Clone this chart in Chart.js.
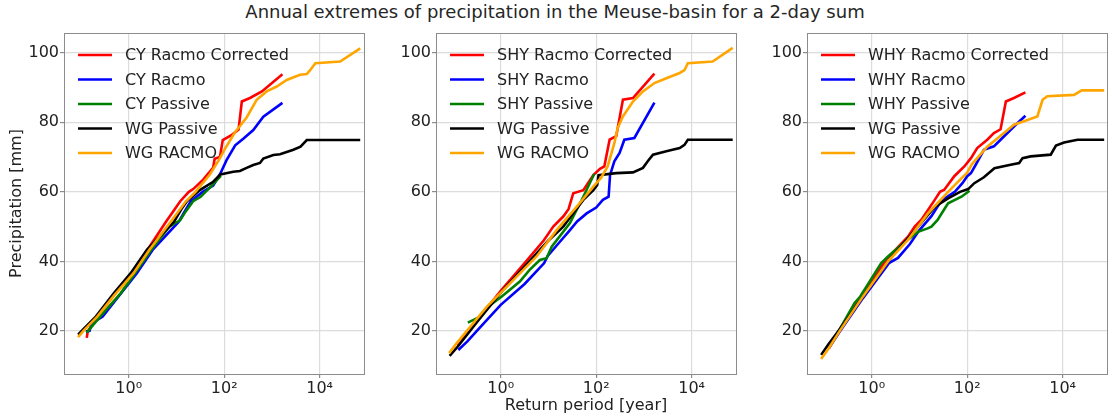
<!DOCTYPE html>
<html>
<head>
<meta charset="utf-8">
<script src="https://cdn.jsdelivr.net/npm/chart.js@4.4.1/dist/chart.umd.min.js"></script>
<style>
  body { margin: 0; width: 1110px; height: 420px; overflow: hidden; background: #fff; position: relative; font-family: "DejaVu Sans", sans-serif; }
  #title { position: absolute; top: 2px; left: 0; width: 1110px; line-height: 20px; text-align: center; font-size: 18px; color: #262626; }
  canvas { position: absolute; top: 0; }
</style>
</head>
<body>
<div id="title">Annual extremes of precipitation in the Meuse-basin for a 2-day sum</div>
<canvas id="p1" width="372" height="420" style="left:0px"></canvas>
<canvas id="p2" width="372" height="420" style="left:372px"></canvas>
<canvas id="p3" width="372" height="420" style="left:743px"></canvas>
<script>
// return period [year] and 2-day precipitation [mm] per series

// CY panel
const cyCorrT = [0.132, 0.138, 0.219, 0.5, 1.15, 2.45, 6.03, 12, 18.2, 22.4, 36.3, 58.9, 63.1, 81.3, 93.3, 145, 200, 234, 347, 617, 1660];
const cyCorrP = [18.0, 19.8, 24.1, 30.5, 36.6, 43.3, 51.4, 57.3, 60.0, 60.8, 63.5, 67.0, 69.5, 70.0, 74.9, 76.4, 77.9, 86.0, 87.0, 88.9, 93.8];
const cyRacmoT = [0.126, 0.151, 0.166, 0.282, 1.48, 3.16, 11.2, 15.1, 20, 35.5, 58.9, 83.2, 112, 170, 251, 407, 661, 1660];
const cyRacmoP = [19.8, 20.0, 22.2, 24.1, 36.6, 43.3, 51.4, 54.5, 57.3, 60.0, 61.8, 65.3, 69.1, 73.4, 75.3, 77.8, 81.6, 85.6];
const cyPassT = [0.132, 0.251, 0.676, 1.35, 2.95, 7.08, 10.5, 12, 15.5, 22.4, 31.6, 52.5, 85.1];
const cyPassP = [19.5, 24.1, 30.8, 36.6, 43.3, 50.0, 51.4, 51.9, 54.3, 57.3, 58.5, 61.5, 64.6];
const wgPass1T = [0.087, 0.112, 0.204, 0.5, 1.1, 2.4, 8.9, 12.6, 16.6, 30.9, 58.9, 83.2, 155, 214, 295, 407, 562, 661, 1072, 1479, 2818, 3981, 5370, 70795];
const wgPass1P = [18.9, 20.5, 24.1, 31.0, 36.6, 43.3, 51.4, 55.0, 57.3, 60.5, 62.9, 65.0, 65.8, 66.0, 66.9, 67.7, 68.3, 69.6, 70.6, 70.8, 72.1, 73.0, 74.9, 74.9];
const wgRacmo1T = [0.087, 0.112, 0.219, 0.5, 1.26, 2.69, 7.59, 15.8, 25.1, 50.1, 79.4, 100, 166, 295, 479, 776, 1259, 2042, 3890, 5370, 6310, 8128, 26915, 70795];
const wgRacmo1P = [18.2, 20.0, 24.1, 30.3, 36.6, 43.3, 51.4, 57.3, 60.0, 65.0, 69.4, 72.0, 77.0, 81.4, 86.5, 88.9, 90.3, 92.2, 93.7, 93.9, 95.0, 97.0, 97.5, 101.3];

// SHY panel
const shyCorrT = [0.126, 0.316, 1, 3.16, 7.94, 12.6, 20.4, 26.3, 33.1, 53.7, 87.1, 120, 148, 191, 263, 363, 589, 1660];
const shyCorrP = [15.8, 23.0, 31.5, 39.5, 46.0, 50.0, 52.9, 55.0, 59.6, 60.5, 64.8, 66.6, 67.3, 75.0, 76.0, 86.5, 87.0, 94.0];
const shyRacmoT = [0.129, 0.2, 0.316, 1, 3.16, 8.13, 9.55, 15.8, 28.2, 39.8, 63.1, 100, 138, 182, 195, 240, 309, 389, 631, 1660];
const shyRacmoP = [14.5, 17.0, 20.0, 27.5, 33.5, 39.5, 41.5, 45.0, 49.0, 51.5, 53.8, 55.5, 57.7, 58.6, 64.8, 68.8, 71.2, 75.0, 75.5, 85.7];
const shyPassT = [0.204, 0.282, 0.372, 0.55, 1.05, 2.51, 3.98, 6.61, 9.12, 11.7, 28.2, 53.7, 91.2];
const shyPassP = [22.4, 23.3, 24.1, 27.0, 29.9, 34.2, 37.5, 40.4, 40.9, 44.2, 51.0, 58.6, 65.2];
const wgPass2T = [0.085, 0.126, 0.316, 1, 3.16, 10, 20.4, 31.6, 53.7, 87.1, 105, 112, 263, 589, 955, 1202, 1549, 2951, 5623, 7079, 8318, 72444];
const wgPass2P = [12.8, 15.5, 22.5, 31.0, 38.5, 46.0, 50.0, 53.5, 57.7, 60.5, 62.0, 64.8, 65.4, 65.6, 66.9, 68.8, 70.7, 71.7, 72.6, 73.5, 75.0, 75.0];
const wgRacmo2T = [0.083, 0.12, 0.513, 1.15, 5.62, 14.8, 38.9, 87.1, 126, 174, 240, 282, 363, 589, 955, 1660, 2951, 5623, 7079, 8318, 27542, 72444];
const wgRacmo2P = [13.6, 16.5, 27.0, 31.8, 41.4, 49.0, 55.7, 61.5, 64.0, 67.3, 74.0, 78.4, 81.7, 86.0, 88.9, 91.3, 92.7, 94.2, 95.0, 97.0, 97.5, 101.4];

// WHY panel
const whyCorrT = [0.126, 0.214, 0.631, 2.0, 5.75, 7.94, 11, 20.9, 26.9, 33.1, 53.7, 87.1, 120, 162, 263, 363, 501, 646, 955, 1660];
const whyCorrP = [15.0, 20.5, 30.5, 40.5, 47.1, 50.0, 52.0, 57.7, 60.0, 60.6, 64.5, 67.3, 69.7, 72.6, 75.0, 76.9, 78.0, 86.0, 87.0, 88.6];
const whyRacmoT = [0.126, 0.214, 0.661, 2.29, 3.55, 6.31, 10, 17.8, 28.8, 55, 79.4, 100, 120, 151, 224, 363, 501, 955, 1660];
const whyRacmoP = [15.0, 19.8, 29.5, 39.5, 41.0, 45.0, 49.0, 53.0, 57.5, 60.0, 62.5, 64.5, 65.4, 67.8, 72.1, 73.1, 75.0, 78.8, 81.9];
const whyPassT = [0.126, 0.229, 0.437, 0.575, 1.58, 2.19, 3.98, 9.33, 14.8, 17.8, 24, 33.1, 39.8, 75.9, 112];
const whyPassP = [15.5, 21.2, 28.0, 29.9, 39.5, 41.4, 44.5, 48.5, 49.5, 50.0, 51.9, 55.0, 56.7, 58.6, 60.3];
const wgPass3T = [0.087, 0.126, 0.214, 0.661, 2.19, 9.33, 20.9, 39.8, 70.8, 105, 141, 224, 372, 813, 1230, 1445, 2138, 5623, 7244, 10715, 20417, 74131];
const wgPass3P = [13.1, 16.3, 20.5, 30.0, 40.0, 50.0, 55.7, 58.1, 60.0, 60.8, 62.5, 64.2, 66.8, 67.8, 68.3, 69.7, 70.2, 70.7, 73.3, 74.2, 75.0, 75.0];
const wgRacmo3T = [0.087, 0.126, 0.214, 0.661, 2.19, 5.75, 9.33, 15.1, 39.8, 63.1, 100, 126, 263, 589, 955, 1549, 2951, 3802, 4786, 17378, 25119, 74131];
const wgRacmo3P = [11.9, 15.0, 20.0, 30.0, 40.0, 46.2, 50.0, 53.8, 60.0, 62.8, 65.5, 68.0, 73.0, 76.9, 79.3, 80.3, 81.7, 86.5, 87.5, 87.9, 89.2, 89.2];

const cyLabels = ['CY Racmo Corrected', 'CY Racmo', 'CY Passive', 'WG Passive', 'WG RACMO'];
const shyLabels = ['SHY Racmo Corrected', 'SHY Racmo', 'SHY Passive', 'WG Passive', 'WG RACMO'];
const whyLabels = ['WHY Racmo Corrected', 'WHY Racmo', 'WHY Passive', 'WG Passive', 'WG RACMO'];

const xTickValues = [1, 100, 10000];
const xTickLabels = ['10\u2070', '10\u00b2', '10\u2074'];
const yTickValues = [20, 40, 60, 80, 100];

const lineColors = ['#ff0000', '#0000ff', '#008000', '#000000', '#ffa500'];
const FONT = '"DejaVu Sans"';

Chart.defaults.font.family = FONT;
Chart.defaults.font.size = 16;
Chart.defaults.color = '#222';

// axes frame + legend drawn inside the plot area, top left
const frameAndLegend = {
  id: 'frameAndLegend',
  afterDatasetsDraw(chart) {
    const { ctx, chartArea: a } = chart;
    ctx.save();
    ctx.strokeStyle = '#8c8c8c';
    ctx.lineWidth = 1;
    ctx.strokeRect(a.left + 0.5, a.top + 0.5, a.right - a.left, a.bottom - a.top);

    ctx.font = '16px ' + FONT;
    ctx.textBaseline = 'middle';
    chart.data.datasets.forEach((ds, i) => {
      const y = a.top + 22 + i * 24.5;
      ctx.strokeStyle = ds.borderColor;
      ctx.lineWidth = 2.6;
      ctx.beginPath();
      ctx.moveTo(a.left + 14, y);
      ctx.lineTo(a.left + 48, y);
      ctx.stroke();
      ctx.fillStyle = '#222';
      ctx.fillText(ds.label, a.left + 61, y + 1);
    });
    ctx.restore();
  }
};

function makeSeries(t, p) {
  return t.map((v, i) => ({ x: v, y: p[i] }));
}

function drawPanel(canvasId, labels, series, showYTitle, showXTitle) {
  const datasets = series.map((s, i) => ({
    label: labels[i],
    data: makeSeries(s[0], s[1]),
    borderColor: lineColors[i],
    borderWidth: 2.6,
    pointRadius: 0,
    tension: 0,
    fill: false,
    order: 5 - i   // last series ends up on top
  }));

  new Chart(document.getElementById(canvasId), {
    type: 'line',
    data: { datasets },
    options: {
      responsive: false,
      animation: false,
      events: [],
      layout: { padding: { top: 33, right: 8, left: 0, bottom: 0 } },
      plugins: { legend: { display: false }, tooltip: { enabled: false } },
      scales: {
        x: {
          type: 'logarithmic',
          min: 0.044,
          max: 85000,
          afterBuildTicks: s => { s.ticks = xTickValues.map(v => ({ value: v })); },
          afterFit: s => { s.height = 46; },
          ticks: {
            autoSkip: false, maxRotation: 0, padding: 1,
            callback: (v, i) => xTickLabels[i]
          },
          grid: { color: '#dcdcdc', lineWidth: 1.2, tickLength: 4, tickColor: '#8c8c8c' },
          border: { display: false },
          title: {
            display: showXTitle, text: 'Return period [year]',
            font: { size: 16 }, color: '#222', padding: { top: 0, bottom: 5 }
          }
        },
        y: {
          min: 7.6,
          max: 105.7,
          afterBuildTicks: s => { s.ticks = yTickValues.map(v => ({ value: v })); },
          afterFit: s => { s.width = 64; },
          ticks: { padding: 1 },
          grid: { color: '#dcdcdc', lineWidth: 1.2, tickLength: 4, tickColor: '#8c8c8c' },
          border: { display: false },
          title: {
            display: showYTitle, text: 'Precipitation [mm]',
            font: { size: 16 }, color: '#222', padding: { top: 7, bottom: 0 }
          }
        }
      }
    },
    plugins: [frameAndLegend]
  });
}

drawPanel('p1', cyLabels, [
  [cyCorrT, cyCorrP], [cyRacmoT, cyRacmoP], [cyPassT, cyPassP],
  [wgPass1T, wgPass1P], [wgRacmo1T, wgRacmo1P]
], true, false);

drawPanel('p2', shyLabels, [
  [shyCorrT, shyCorrP], [shyRacmoT, shyRacmoP], [shyPassT, shyPassP],
  [wgPass2T, wgPass2P], [wgRacmo2T, wgRacmo2P]
], false, true);

drawPanel('p3', whyLabels, [
  [whyCorrT, whyCorrP], [whyRacmoT, whyRacmoP], [whyPassT, whyPassP],
  [wgPass3T, wgPass3P], [wgRacmo3T, wgRacmo3P]
], false, false);
</script>
</body>
</html>
